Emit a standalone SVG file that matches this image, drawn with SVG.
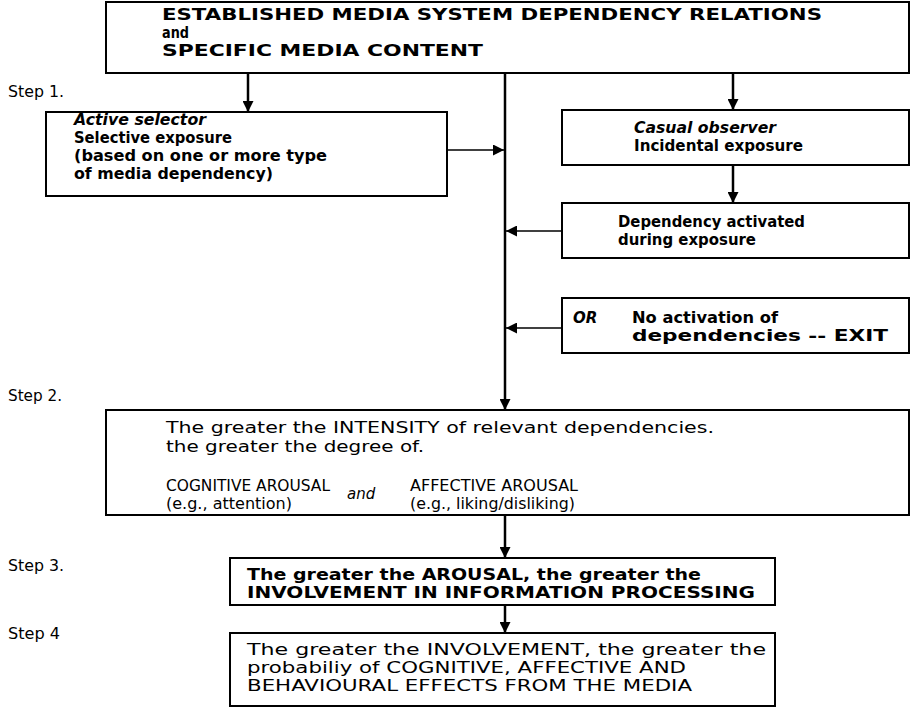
<svg xmlns="http://www.w3.org/2000/svg" width="912" height="716" viewBox="0 0 912 716">
<defs>
<marker id="ah" viewBox="0 0 10 10" refX="10" refY="5" markerWidth="11" markerHeight="11" markerUnits="userSpaceOnUse" orient="auto">
<path d="M0,0 L10,5 L0,10 Z" fill="#000"/>
</marker>
</defs>
<style>
.box{fill:#fff;stroke:#000;stroke-width:2}
.t{font-family:"DejaVu Sans","Liberation Sans",Arial,sans-serif;font-size:15px;fill:#000}
.b{font-weight:bold}
.i{font-style:italic}
.lbl{font-family:"DejaVu Sans","Liberation Sans",Arial,sans-serif;font-size:15px;fill:#000}
.c{stroke:#000;fill:none}
.main{stroke-width:2.5}
.side{stroke-width:1.6}
</style>
<rect width="912" height="716" fill="#fff"/>

<g id="connectors">
<line class="c main" x1="248" y1="73" x2="248" y2="112" marker-end="url(#ah)"/>
<line class="c main" x1="505" y1="73" x2="505" y2="410" marker-end="url(#ah)"/>
<line class="c main" x1="733" y1="73" x2="733" y2="110" marker-end="url(#ah)"/>
<line class="c side" x1="447" y1="150" x2="504" y2="150" marker-end="url(#ah)"/>
<line class="c main" x1="733" y1="165" x2="733" y2="203" marker-end="url(#ah)"/>
<line class="c side" x1="562" y1="231" x2="506" y2="231" marker-end="url(#ah)"/>
<line class="c side" x1="562" y1="328" x2="506" y2="328" marker-end="url(#ah)"/>
<line class="c main" x1="505" y1="515" x2="505" y2="558" marker-end="url(#ah)"/>
<line class="c main" x1="505" y1="605" x2="505" y2="633" marker-end="url(#ah)"/>
</g>

<g id="labels">
<text class="lbl" x="8" y="97" textLength="56" lengthAdjust="spacingAndGlyphs">Step 1.</text>
<text class="lbl" x="8" y="401" textLength="54" lengthAdjust="spacingAndGlyphs">Step 2.</text>
<text class="lbl" x="8" y="571" textLength="56" lengthAdjust="spacingAndGlyphs">Step 3.</text>
<text class="lbl" x="8" y="639" textLength="52" lengthAdjust="spacingAndGlyphs">Step 4</text>
</g>

<g id="top">
<rect class="box" x="106" y="2" width="803" height="71"/>
<text class="t b" x="162" y="20" textLength="660" lengthAdjust="spacingAndGlyphs">ESTABLISHED MEDIA SYSTEM DEPENDENCY RELATIONS</text>
<text class="t b" x="162" y="38" textLength="27" lengthAdjust="spacingAndGlyphs">and</text>
<text class="t b" x="162" y="56" textLength="321" lengthAdjust="spacingAndGlyphs">SPECIFIC MEDIA CONTENT</text>
</g>

<g id="active">
<rect class="box" x="46" y="112" width="401" height="84"/>
<text class="t b i" x="74" y="125" textLength="132" lengthAdjust="spacingAndGlyphs">Active selector</text>
<text class="t b" x="74" y="143" textLength="158" lengthAdjust="spacingAndGlyphs">Selective exposure</text>
<text class="t b" x="74" y="161" textLength="253" lengthAdjust="spacingAndGlyphs">(based on one or more type</text>
<text class="t b" x="74" y="179" textLength="199" lengthAdjust="spacingAndGlyphs">of media dependency)</text>
</g>

<g id="casual">
<rect class="box" x="562" y="110" width="347" height="55"/>
<text class="t b i" x="634" y="133" textLength="142" lengthAdjust="spacingAndGlyphs">Casual observer</text>
<text class="t b" x="634" y="151" textLength="169" lengthAdjust="spacingAndGlyphs">Incidental exposure</text>
</g>

<g id="activated">
<rect class="box" x="562" y="203" width="347" height="55"/>
<text class="t b" x="618" y="227" textLength="187" lengthAdjust="spacingAndGlyphs">Dependency activated</text>
<text class="t b" x="618" y="245" textLength="138" lengthAdjust="spacingAndGlyphs">during exposure</text>
</g>

<g id="exit">
<rect class="box" x="562" y="298" width="347" height="55"/>
<text class="t b i" x="573" y="323">OR</text>
<text class="t b" x="632" y="323" textLength="146" lengthAdjust="spacingAndGlyphs">No activation of</text>
<text class="t b" x="632" y="341" textLength="256" lengthAdjust="spacingAndGlyphs">dependencies -- EXIT</text>
</g>

<g id="step2">
<rect class="box" x="106" y="410" width="803" height="105"/>
<text class="t" x="166" y="433" textLength="548" lengthAdjust="spacingAndGlyphs">The greater the INTENSITY of relevant dependencies.</text>
<text class="t" x="166" y="452" textLength="258" lengthAdjust="spacingAndGlyphs">the greater the degree of.</text>
<text class="t" x="166" y="491" textLength="164" lengthAdjust="spacingAndGlyphs">COGNITIVE AROUSAL</text>
<text class="t" x="166" y="509" textLength="126" lengthAdjust="spacingAndGlyphs">(e.g., attention)</text>
<text class="t i" x="347" y="499">and</text>
<text class="t" x="410" y="491" textLength="168" lengthAdjust="spacingAndGlyphs">AFFECTIVE AROUSAL</text>
<text class="t" x="410" y="509" textLength="165" lengthAdjust="spacingAndGlyphs">(e.g., liking/disliking)</text>
</g>

<g id="step3">
<rect class="box" x="230" y="558" width="545" height="47"/>
<text class="t b" x="247" y="580" textLength="454" lengthAdjust="spacingAndGlyphs">The greater the AROUSAL, the greater the</text>
<text class="t b" x="247" y="598" textLength="508" lengthAdjust="spacingAndGlyphs">INVOLVEMENT IN INFORMATION PROCESSING</text>
</g>

<g id="step4">
<rect class="box" x="230" y="633" width="545" height="73"/>
<text class="t" x="247" y="655" textLength="519" lengthAdjust="spacingAndGlyphs">The greater the INVOLVEMENT, the greater the</text>
<text class="t" x="247" y="673" textLength="439" lengthAdjust="spacingAndGlyphs">probabiliy of COGNITIVE, AFFECTIVE AND</text>
<text class="t" x="247" y="691" textLength="445" lengthAdjust="spacingAndGlyphs">BEHAVIOURAL EFFECTS FROM THE MEDIA</text>
</g>
</svg>
